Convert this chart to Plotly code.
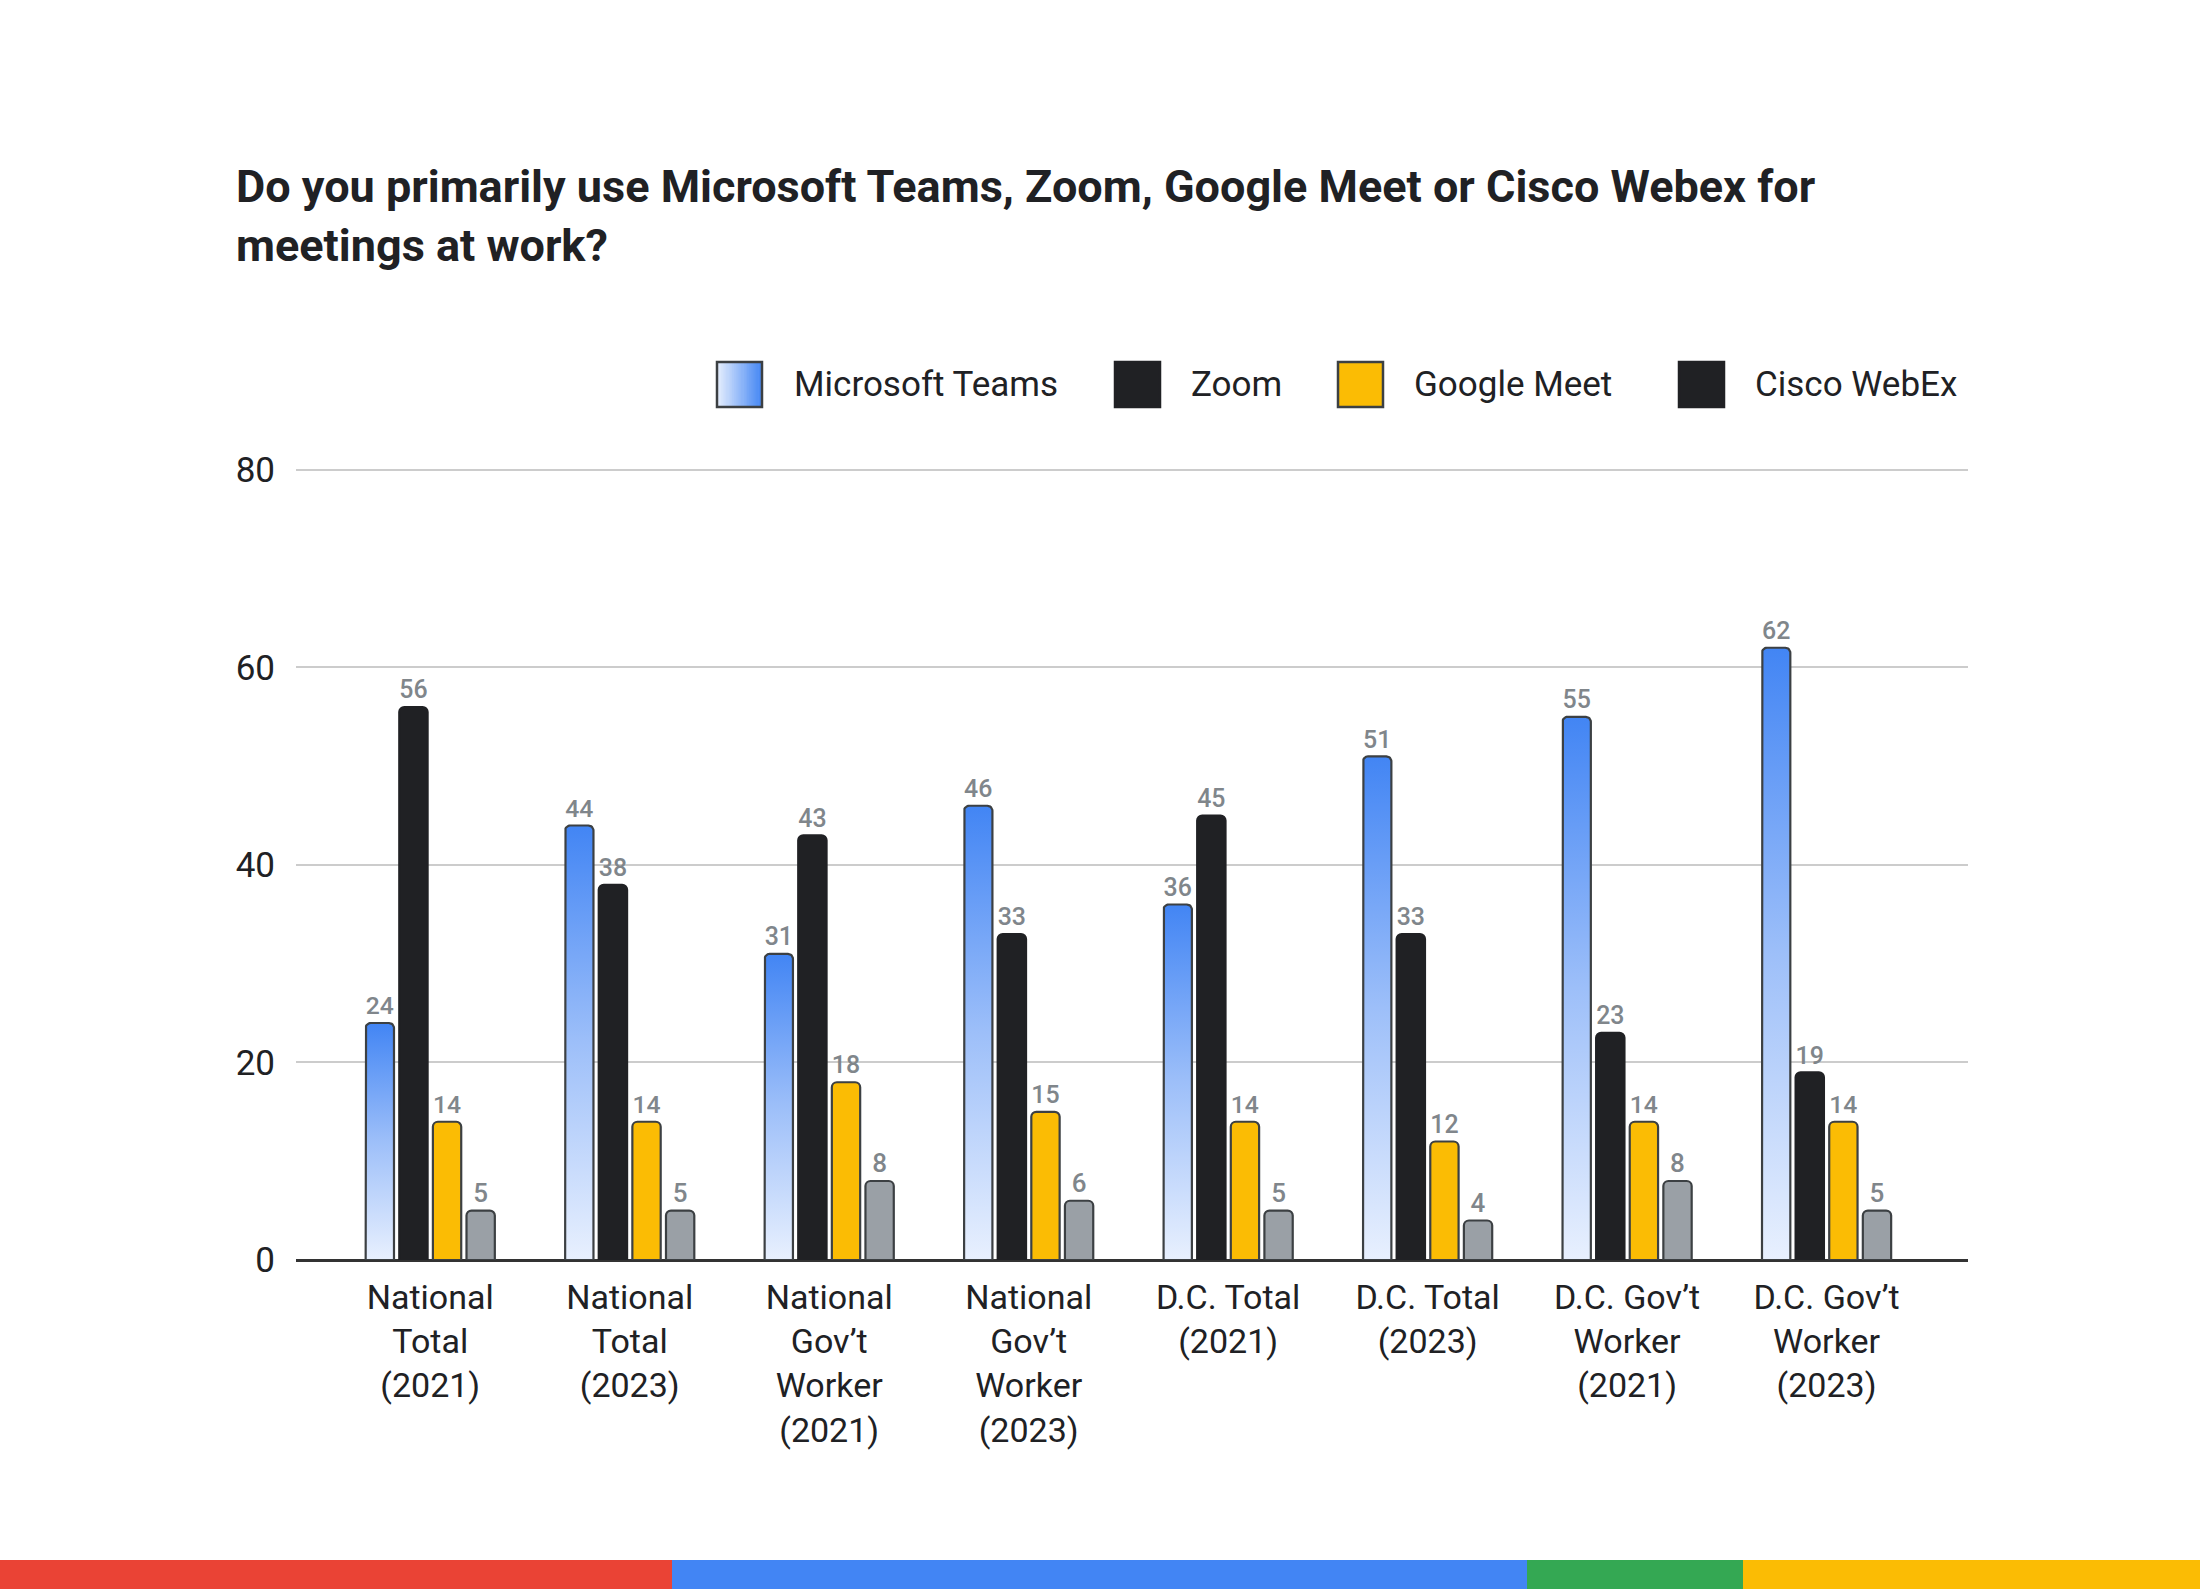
import plotly.graph_objects as go
import math

# ---------------- data ----------------
categories = [
    "National<br>Total<br>(2021)",
    "National<br>Total<br>(2023)",
    "National<br>Gov\u2019t<br>Worker<br>(2021)",
    "National<br>Gov\u2019t<br>Worker<br>(2023)",
    "D.C. Total<br>(2021)",
    "D.C. Total<br>(2023)",
    "D.C. Gov\u2019t<br>Worker<br>(2021)",
    "D.C. Gov\u2019t<br>Worker<br>(2023)",
]
teams = [24, 44, 31, 46, 36, 51, 55, 62]
zoom = [56, 38, 43, 33, 45, 33, 23, 19]
meet = [14, 14, 18, 15, 14, 12, 14, 14]
webex = [5, 5, 8, 6, 5, 4, 8, 5]
series_names = ["Microsoft Teams", "Zoom", "Google Meet", "Cisco WebEx"]
y_ticks = [0, 20, 40, 60, 80]
title_text = ("Do you primarily use Microsoft Teams, Zoom, Google Meet or Cisco Webex for"
              "<br>meetings at work?")

# ---------------- style / geometry ----------------
W, H = 2200, 1589
ML, MR, MT, MB = 296, 232, 468, 329
PW, PH = W - ML - MR, H - MT - MB
X_RANGE = [-0.673, 7.709]
Y_RANGE = [0, 80.2]
STEP = 0.1685
BAR_W = 0.142
FONT = "Roboto"
TXT = "#202124"
LBL = "#80868B"
OUTLINE = "#3C4043"
BLUE_TOP = "#4285F4"
BLUE_BOT = "#E8F0FE"
series_colors = [BLUE_TOP, "#202124", "#FBBC04", "#9AA0A6"]
series_lines = [OUTLINE, "#202124", OUTLINE, OUTLINE]

px_per_x = PW / (X_RANGE[1] - X_RANGE[0])
px_per_y = PH / (Y_RANGE[1] - Y_RANGE[0])


def px2x(px):
    return (px - ML) / PW


def py2y(py):
    return (H - MB - py) / PH


def offset_of(k):
    return (k - 1.5) * STEP - BAR_W / 2


fig = go.Figure()
xs = list(range(len(categories)))
all_series = [teams, zoom, meet, webex]

# Bars (Teams bar transparent: carries labels; gradient drawn on top)
for k, (name, vals) in enumerate(zip(series_names, all_series)):
    is_teams = k == 0
    fig.add_trace(go.Bar(
        x=xs, y=vals, name=name,
        offset=offset_of(k), width=BAR_W,
        marker=dict(
            color="rgba(0,0,0,0)" if is_teams else series_colors[k],
            line=dict(color=series_lines[k], width=0 if is_teams else 2.2),
            cornerradius=5,
        ),
        text=[str(v) for v in vals], textposition="outside",
        textfont=dict(family=FONT, size=26, color=LBL, weight=500),
        cliponaxis=False, showlegend=False,
        hovertemplate=name + ": %{y}<extra></extra>",
    ))

# Gradient-filled Teams bars (rounded top corners)
r = 5.0
rx, ry = r / px_per_x, r / px_per_y
for i, v in enumerate(teams):
    x0 = i + offset_of(0)
    x1 = x0 + BAR_W
    px_, py_ = [x0, x0], [0, v - ry]
    for t in range(1, 9):
        a = math.pi - t * (math.pi / 2) / 8
        px_.append(x0 + rx + rx * math.cos(a))
        py_.append(v - ry + ry * math.sin(a))
    for t in range(0, 9):
        a = math.pi / 2 - t * (math.pi / 2) / 8
        px_.append(x1 - rx + rx * math.cos(a))
        py_.append(v - ry + ry * math.sin(a))
    px_ += [x1, x0]
    py_ += [0, 0]
    fig.add_trace(go.Scatter(
        x=px_, y=py_, mode="lines", fill="toself",
        fillgradient=dict(type="vertical",
                          colorscale=[[0, BLUE_BOT], [0.5, "#9DBFF9"], [1, BLUE_TOP]]),
        line=dict(color=OUTLINE, width=2.2),
        showlegend=False, hoverinfo="skip",
    ))

shapes = []
annotations = []

# Custom legend
leg_x = [717, 1115, 1338, 1679]
leg_tx = [792, 1189, 1412, 1753]
sw = 45
sy0, sy1 = 362, 407
for k, name in enumerate(series_names):
    x0 = leg_x[k]
    if k == 0:
        n = 24
        c0 = (0xE8, 0xF0, 0xFE)
        c1 = (0x42, 0x85, 0xF4)
        for j in range(n):
            f = (j + 0.5) / n
            col = "rgb(%d,%d,%d)" % tuple(int(c0[c] + (c1[c] - c0[c]) * f) for c in range(3))
            shapes.append(dict(type="rect", xref="paper", yref="paper",
                               x0=px2x(x0 + sw * j / n), x1=px2x(x0 + sw * (j + 1) / n + 0.6),
                               y0=py2y(sy1), y1=py2y(sy0),
                               fillcolor=col, line=dict(width=0)))
        shapes.append(dict(type="rect", xref="paper", yref="paper",
                           x0=px2x(x0), x1=px2x(x0 + sw), y0=py2y(sy1), y1=py2y(sy0),
                           fillcolor="rgba(0,0,0,0)", line=dict(color=OUTLINE, width=2.5)))
    else:
        shapes.append(dict(type="rect", xref="paper", yref="paper",
                           x0=px2x(x0), x1=px2x(x0 + sw), y0=py2y(sy1), y1=py2y(sy0),
                           fillcolor=series_colors[k] if k != 3 else "#202124",
                           line=dict(color=OUTLINE if k == 2 else "#202124", width=2.5)))
    annotations.append(dict(xref="paper", yref="paper", x=px2x(leg_tx[k]), y=py2y(384),
                            xanchor="left", yanchor="middle", text=name, showarrow=False,
                            font=dict(family=FONT, size=35, color=TXT)))

# Bottom colour stripe
stripe_x = [0, 672, 1527, 1743, 2200]
stripe_c = ["#EA4335", "#4285F4", "#34A853", "#FBBC04"]
for j in range(4):
    shapes.append(dict(type="rect", xref="paper", yref="paper",
                       x0=px2x(stripe_x[j] - (2 if j == 0 else 0)),
                       x1=px2x(stripe_x[j + 1] + (2 if j == 3 else 0)),
                       y0=py2y(1600), y1=py2y(1560),
                       fillcolor=stripe_c[j], line=dict(width=0)))

fig.update_layout(
    width=W, height=H,
    margin=dict(l=ML, r=MR, t=MT, b=MB, pad=0),
    paper_bgcolor="white", plot_bgcolor="white",
    barmode="overlay",
    showlegend=False,
    title=dict(text=title_text, x=236 / W, xanchor="left", xref="container",
               y=1 - 202 / H, yanchor="top", yref="container",
               font=dict(family=FONT, size=45, color=TXT, weight="bold")),
    xaxis=dict(range=X_RANGE, tickmode="array", tickvals=xs, ticktext=categories,
               showgrid=False, zeroline=False, showline=False, ticks="",
               tickfont=dict(family=FONT, size=34, color=TXT), ticklabelstandoff=14),
    yaxis=dict(range=Y_RANGE, tickmode="array", tickvals=y_ticks,
               showgrid=True, gridcolor="#CCCCCC", gridwidth=2,
               zeroline=True, zerolinecolor="#333333", zerolinewidth=2.5,
               showline=False, ticks="",
               tickfont=dict(family=FONT, size=35, color=TXT), ticklabelstandoff=20),
    shapes=shapes, annotations=annotations,
)

fig.write_html("out.html", config={"displayModeBar": False},
               post_script="document.body.style.margin='0';document.body.style.overflow='hidden';")
